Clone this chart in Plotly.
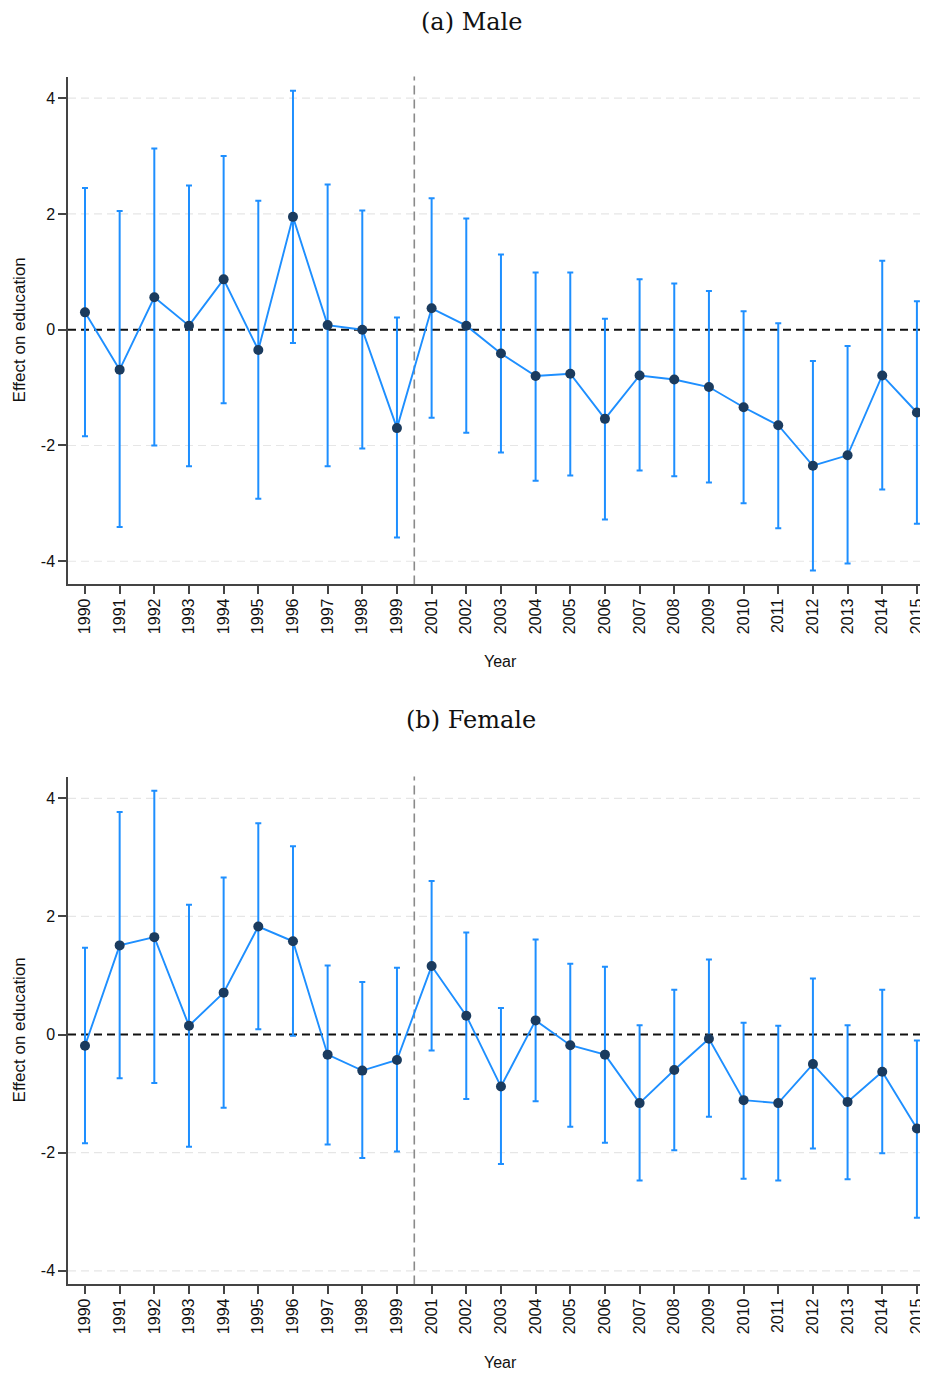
import plotly.graph_objects as go

years = ["1990", "1991", "1992", "1993", "1994", "1995", "1996", "1997", "1998", "1999",
         "2001", "2002", "2003", "2004", "2005", "2006", "2007", "2008", "2009", "2010",
         "2011", "2012", "2013", "2014", "2015"]

male_est = [0.30, -0.69, 0.56, 0.07, 0.87, -0.35, 1.95, 0.08, 0.00, -1.70,
            0.37, 0.07, -0.41, -0.80, -0.76, -1.54, -0.79, -0.86, -0.99, -1.34,
            -1.65, -2.35, -2.17, -0.79, -1.43]
male_hi = [2.45, 2.05, 3.13, 2.49, 3.00, 2.23, 4.13, 2.51, 2.06, 0.21,
           2.27, 1.92, 1.30, 0.99, 0.99, 0.19, 0.87, 0.80, 0.67, 0.32,
           0.11, -0.54, -0.28, 1.19, 0.49]
male_lo = [-1.84, -3.41, -2.00, -2.36, -1.27, -2.92, -0.23, -2.36, -2.05, -3.59,
           -1.52, -1.78, -2.12, -2.61, -2.52, -3.28, -2.43, -2.53, -2.64, -3.00,
           -3.43, -4.16, -4.04, -2.76, -3.35]

female_est = [-0.19, 1.51, 1.65, 0.15, 0.71, 1.83, 1.58, -0.34, -0.61, -0.43,
              1.16, 0.32, -0.88, 0.24, -0.18, -0.34, -1.16, -0.60, -0.07, -1.11,
              -1.16, -0.50, -1.14, -0.63, -1.59]
female_hi = [1.47, 3.77, 4.13, 2.20, 2.66, 3.58, 3.19, 1.17, 0.89, 1.13,
             2.60, 1.73, 0.45, 1.61, 1.20, 1.15, 0.16, 0.76, 1.27, 0.20,
             0.15, 0.95, 0.16, 0.76, -0.10]
female_lo = [-1.84, -0.74, -0.82, -1.90, -1.24, 0.09, -0.02, -1.86, -2.09, -1.98,
             -0.27, -1.09, -2.19, -1.13, -1.56, -1.83, -2.47, -1.96, -1.39, -2.44,
             -2.47, -1.93, -2.45, -2.01, -3.10]

y_ticks = [-4, -2, 0, 2, 4]
y_ticktext = ["-4", "-2", "0", "2", "4"]
panel_titles = ["(a) Male", "(b) Female"]
x_title = "Year"
y_title = "Effect on education"

# the page body has an 8px margin: build the figure 8px smaller and
# express target pixel positions relative to that offset
OX, OY = 8, 8
W, H = 928 - OX, 1375 - OY


def px_x(px):
    return (px - OX) / W


def px_y(py):
    return 1 - (py - OY) / H


LINE_BLUE = "#1E8FFF"
MARKER_NAVY = "#1B3B5E"
AXIS_COL = "#444444"
SANS = "Liberation Sans, Arial, sans-serif"

xpos = list(range(len(years)))
fig = go.Figure()

panels = [
    (male_est, male_hi, male_lo, "x", "y", [-4.40, 4.375], (76.5, 584.4)),
    (female_est, female_hi, female_lo, "x2", "y2", [-4.23, 4.37], (776.5, 1284.4)),
]

for i, (est, hi, lo, xa, ya, yr, (ptop, pbot)) in enumerate(panels):
    plus = [h - e for h, e in zip(hi, est)]
    minus = [e - l for e, l in zip(est, lo)]
    fig.add_trace(go.Scatter(
        x=xpos, y=est, xaxis=xa, yaxis=ya, mode="lines+markers",
        line=dict(color=LINE_BLUE, width=1.9),
        marker=dict(color=MARKER_NAVY, size=10),
        error_y=dict(type="data", symmetric=False, array=plus, arrayminus=minus,
                     color=LINE_BLUE, thickness=2, width=3),
        showlegend=False, hoverinfo="skip"))

    suffix = "" if i == 0 else "2"
    ydom = [px_y(pbot), px_y(ptop)]
    fig.update_layout(**{
        "xaxis" + suffix: dict(
            domain=[px_x(68), 1.0], range=[-0.49, 24.32],
            tickvals=xpos, ticktext=years, tickangle=-90,
            ticks="outside", ticklen=8, tickwidth=1.5, tickcolor=AXIS_COL,
            showline=True, linecolor=AXIS_COL, linewidth=1.5,
            showgrid=False, zeroline=False, automargin=False,
            ticklabelstandoff=-2,
            tickfont=dict(family=SANS, size=16, color="#111111"),
            anchor=ya, fixedrange=True),
        "yaxis" + suffix: dict(
            domain=ydom, range=yr, tickvals=y_ticks, ticktext=y_ticktext,
            ticks="outside", ticklen=8, tickwidth=1.5, tickcolor=AXIS_COL,
            showline=True, linecolor=AXIS_COL, linewidth=1.5,
            showgrid=False, zeroline=False, automargin=False,
            tickfont=dict(family=SANS, size=16, color="#111111"),
            anchor=xa, fixedrange=True),
    })

    # light dashed gridlines at the non-zero ticks
    for t in y_ticks:
        if t == 0:
            continue
        fig.add_shape(type="line", xref=xa + " domain", x0=0, x1=1, yref=ya, y0=t, y1=t,
                      line=dict(color="#E6E6E6", width=1.2, dash="8px,5px"), layer="below")
    # zero reference line
    fig.add_shape(type="line", xref=xa + " domain", x0=0, x1=1, yref=ya, y0=0, y1=0,
                  line=dict(color="#111111", width=2, dash="8px,5px"), layer="below")
    # break line between 1999 and 2001
    fig.add_shape(type="line", xref=xa, x0=9.5, x1=9.5, yref=ya + " domain", y0=0, y1=1,
                  line=dict(color="#8A8A8A", width=1.6, dash="9px,5px"), layer="below")

    # panel title
    title_y = 22 if i == 0 else 720
    fig.add_annotation(text=panel_titles[i], xref="paper", yref="paper",
                       x=px_x(471), y=px_y(title_y), xanchor="center", yanchor="middle",
                       showarrow=False, borderpad=0,
                       font=dict(family="DejaVu Serif, Liberation Serif, serif", size=24, color="#111111"))
    # x title
    xt_y = 662 if i == 0 else 1362
    fig.add_annotation(text=x_title, xref="paper", yref="paper",
                       x=px_x(500), y=px_y(xt_y), xanchor="center", yanchor="middle",
                       showarrow=False,
                       font=dict(family=SANS, size=16, color="#111111"))
    # y title
    yt_y = (ptop + pbot) / 2
    fig.add_annotation(text=y_title, xref="paper", yref="paper",
                       x=px_x(19), y=px_y(yt_y), xanchor="center", yanchor="middle",
                       textangle=-90, showarrow=False,
                       font=dict(family=SANS, size=17, color="#111111"))

fig.update_layout(
    width=W, height=H,
    margin=dict(l=0, r=0, t=0, b=0),
    paper_bgcolor="white", plot_bgcolor="white",
    showlegend=False,
)

fig.write_html("out.html")
